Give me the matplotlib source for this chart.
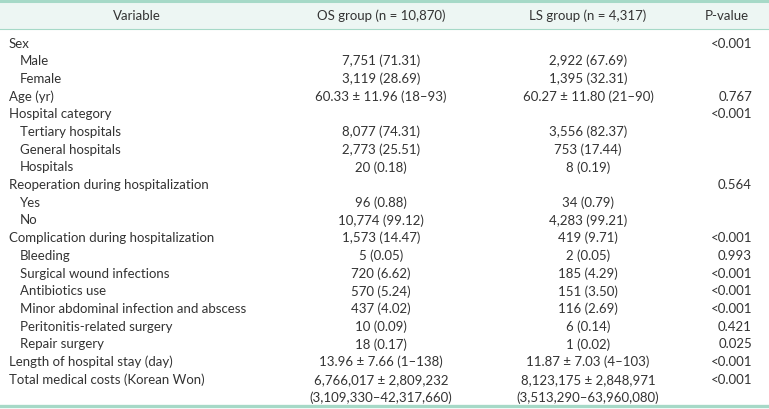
import matplotlib.pyplot as plt

W, H = 769, 410

headers = ["Variable", "OS group (n = 10,870)", "LS group (n = 4,317)", "P-value"]

variables = [
    "Sex", "Male", "Female", "Age (yr)", "Hospital category",
    "Tertiary hospitals", "General hospitals", "Hospitals",
    "Reoperation during hospitalization", "Yes", "No",
    "Complication during hospitalization", "Bleeding",
    "Surgical wound infections", "Antibiotics use",
    "Minor abdominal infection and abscess", "Peritonitis-related surgery",
    "Repair surgery", "Length of hospital stay (day)",
    "Total medical costs (Korean Won)",
]
indented = [0, 1, 1, 0, 0, 1, 1, 1, 0, 1, 1, 0, 1, 1, 1, 1, 1, 1, 0, 0]

os_values = [
    "", "7,751 (71.31)", "3,119 (28.69)", "60.33 \u00b1 11.96 (18\u201393)", "",
    "8,077 (74.31)", "2,773 (25.51)", "20 (0.18)",
    "", "96 (0.88)", "10,774 (99.12)",
    "1,573 (14.47)", "5 (0.05)", "720 (6.62)", "570 (5.24)", "437 (4.02)",
    "10 (0.09)", "18 (0.17)", "13.96 \u00b1 7.66 (1\u2013138)",
    "6,766,017 \u00b1 2,809,232\n(3,109,330\u201342,317,660)",
]
ls_values = [
    "", "2,922 (67.69)", "1,395 (32.31)", "60.27 \u00b1 11.80 (21\u201390)", "",
    "3,556 (82.37)", "753 (17.44)", "8 (0.19)",
    "", "34 (0.79)", "4,283 (99.21)",
    "419 (9.71)", "2 (0.05)", "185 (4.29)", "151 (3.50)", "116 (2.69)",
    "6 (0.14)", "1 (0.02)", "11.87 \u00b1 7.03 (4\u2013103)",
    "8,123,175 \u00b1 2,848,971\n(3,513,290\u201363,960,080)",
]
p_values = [
    "<0.001", "", "", "0.767", "<0.001", "", "", "", "0.564", "", "",
    "<0.001", "0.993", "<0.001", "<0.001", "<0.001", "0.421", "0.025",
    "<0.001", "<0.001",
]

teal = "#a6d9c7"
band = "#edf6f3"
ink = "#333333"
font = dict(family="Lato", fontsize=9.5, color=ink)

fig = plt.figure(figsize=(W / 100, H / 100), dpi=100)
ax = fig.add_axes([0, 0, 1, 1])
ax.set_xlim(0, W)
ax.set_ylim(H, 0)
ax.axis("off")

# header band and rules
ax.axhspan(2, 30, color=band, lw=0)
ax.axhline(2, color=teal, lw=2.2)
ax.axhline(30, color=teal, lw=0.8)
ax.axhline(407, color=teal, lw=2.4)

x_var, x_sub, x_os, x_ls, x_p = 9, 20, 381, 588, 752
ax.text(137, 16, headers[0], ha="center", va="center", **font)
ax.text(x_os, 16, headers[1], ha="center", va="center", **font)
ax.text(x_ls, 16, headers[2], ha="center", va="center", **font)
ax.text(727, 16, headers[3], ha="center", va="center", **font)

y0, dy = 43.5, 17.7
for i, name in enumerate(variables):
    y = y0 + i * dy
    ax.text(x_sub if indented[i] else x_var, y, name, ha="left", va="center", **font)
    for x, val in ((x_os, os_values[i]), (x_ls, ls_values[i])):
        for k, line in enumerate(val.split("\n")):
            ax.text(x, y + k * dy, line, ha="center", va="center", **font)
    ax.text(x_p, y, p_values[i], ha="right", va="center", **font)

fig.savefig("out.png", dpi=100, facecolor="white")
